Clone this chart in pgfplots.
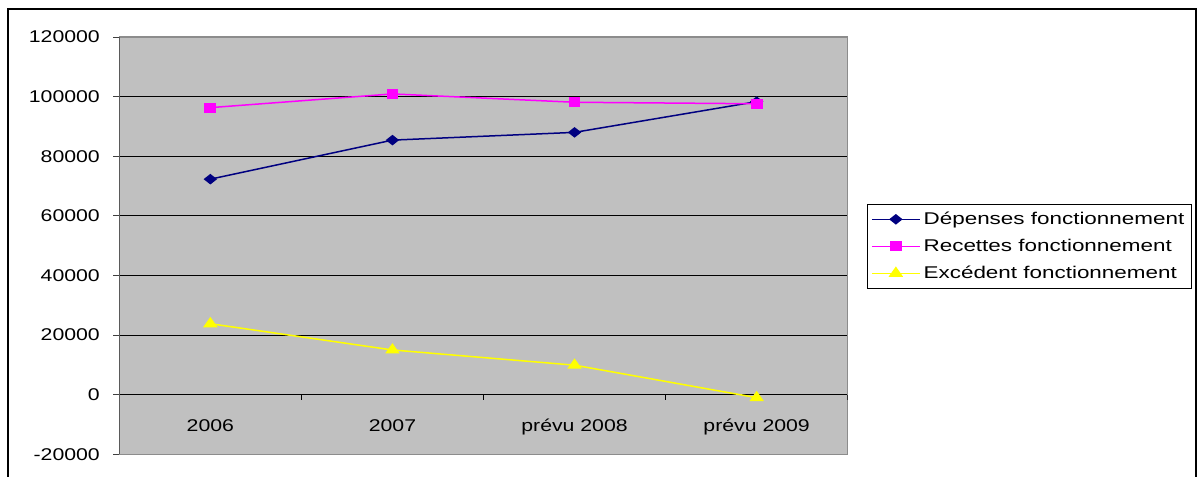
\documentclass[border=0pt]{standalone}
\usepackage{fontspec}
\setmainfont{Liberation Sans}[FakeStretch=1.25]
\newfontfamily\legfont{Liberation Sans}[FakeStretch=1.32]
\usepackage{pgfplots}
\pgfplotsset{compat=1.18}
\definecolor{dnavy}{HTML}{000080}
\definecolor{rmag}{HTML}{FF00FF}
\definecolor{eyel}{HTML}{FFFF00}
\definecolor{plotbg}{HTML}{C0C0C0}
\definecolor{bordergray}{HTML}{8C8C8C}
\definecolor{axisgray}{HTML}{404040}
\newcommand\fs{\fontsize{17bp}{20bp}\selectfont}
\begin{document}
\begin{tikzpicture}[x=1bp,y=1bp]
\useasboundingbox (0,0) rectangle (1199,477);
\draw[line width=1.2bp] (8,-10) -- (8,468) -- (1196,468) -- (1196,-10);
\begin{axis}[
  at={(119.3bp,22.7bp)}, anchor=south west,
  scale only axis, width=728.4bp, height=417.3bp,
  xmin=-0.5, xmax=3.5, ymin=-20000, ymax=120000,
  ytick={-20000,0,20000,40000,60000,80000,100000,120000},
  yticklabels={-20000,0,20000,40000,60000,80000,100000,120000},
  yticklabel style={xshift=-10bp},
  scaled y ticks=false,
  xtick={0,1,2,3},
  xticklabels={2006,2007,prévu 2008,prévu 2009},
  x tick style={draw=none},
  xticklabel style={anchor=base, yshift=28.3bp},
  tick label style={font=\fs},
  ytick pos=left,
  tick align=outside,
  major tick length=6bp,
  y tick style={color=axisgray, line width=0.9bp},
  axis line style={color=bordergray, line width=1.3bp},
  axis background/.style={fill=plotbg},
  ymajorgrids,
  major grid style={color=black, line width=0.9bp},
  legend style={at={(1.0261,0.600)}, anchor=north west, draw=black, line width=0.8bp, fill=white,
    inner xsep=4bp, inner ysep=1.5bp, row sep=0pt, font=\legfont\fs,
    nodes={inner sep=3bp, text height=16bp, text depth=5bp}},
  legend cell align=left,
  legend image code/.code={\draw[mark repeat=2,mark phase=2,#1] plot coordinates {(0bp,0bp) (24bp,0bp) (48bp,0bp)};},
]
\addplot[color=dnavy, line width=1.5bp, mark=diamond*, mark size=4.35bp, mark options={xscale=1.69, solid, fill=dnavy}]
  coordinates {(0,72300) (1,85400) (2,88000) (3,98300)};
\addlegendentry{Dépenses fonctionnement}
\addplot[color=rmag, line width=1.5bp, mark=square*, mark size=4.15bp, mark options={xscale=1.24, solid, fill=rmag}]
  coordinates {(0,96300) (1,100900) (2,98100) (3,97600)};
\addlegendentry{Recettes fonctionnement}
\addplot[color=eyel, line width=1.5bp, mark=triangle*, mark size=5.55bp, mark options={xscale=1.22, solid, fill=eyel}]
  coordinates {(0,23800) (1,15000) (2,9900) (3,-1000)};
\addlegendentry{Excédent fonctionnement}
\draw[color=axisgray, line width=2bp] (rel axis cs:0,0) -- (rel axis cs:0,1);
\pgfplotsinvokeforeach{0.5,1.5,2.5,3.5}{
  \draw[black, line width=0.9bp] (axis cs:#1,0) -- ([yshift=-5bp]axis cs:#1,0);
}
\end{axis}
\end{tikzpicture}
\end{document}
